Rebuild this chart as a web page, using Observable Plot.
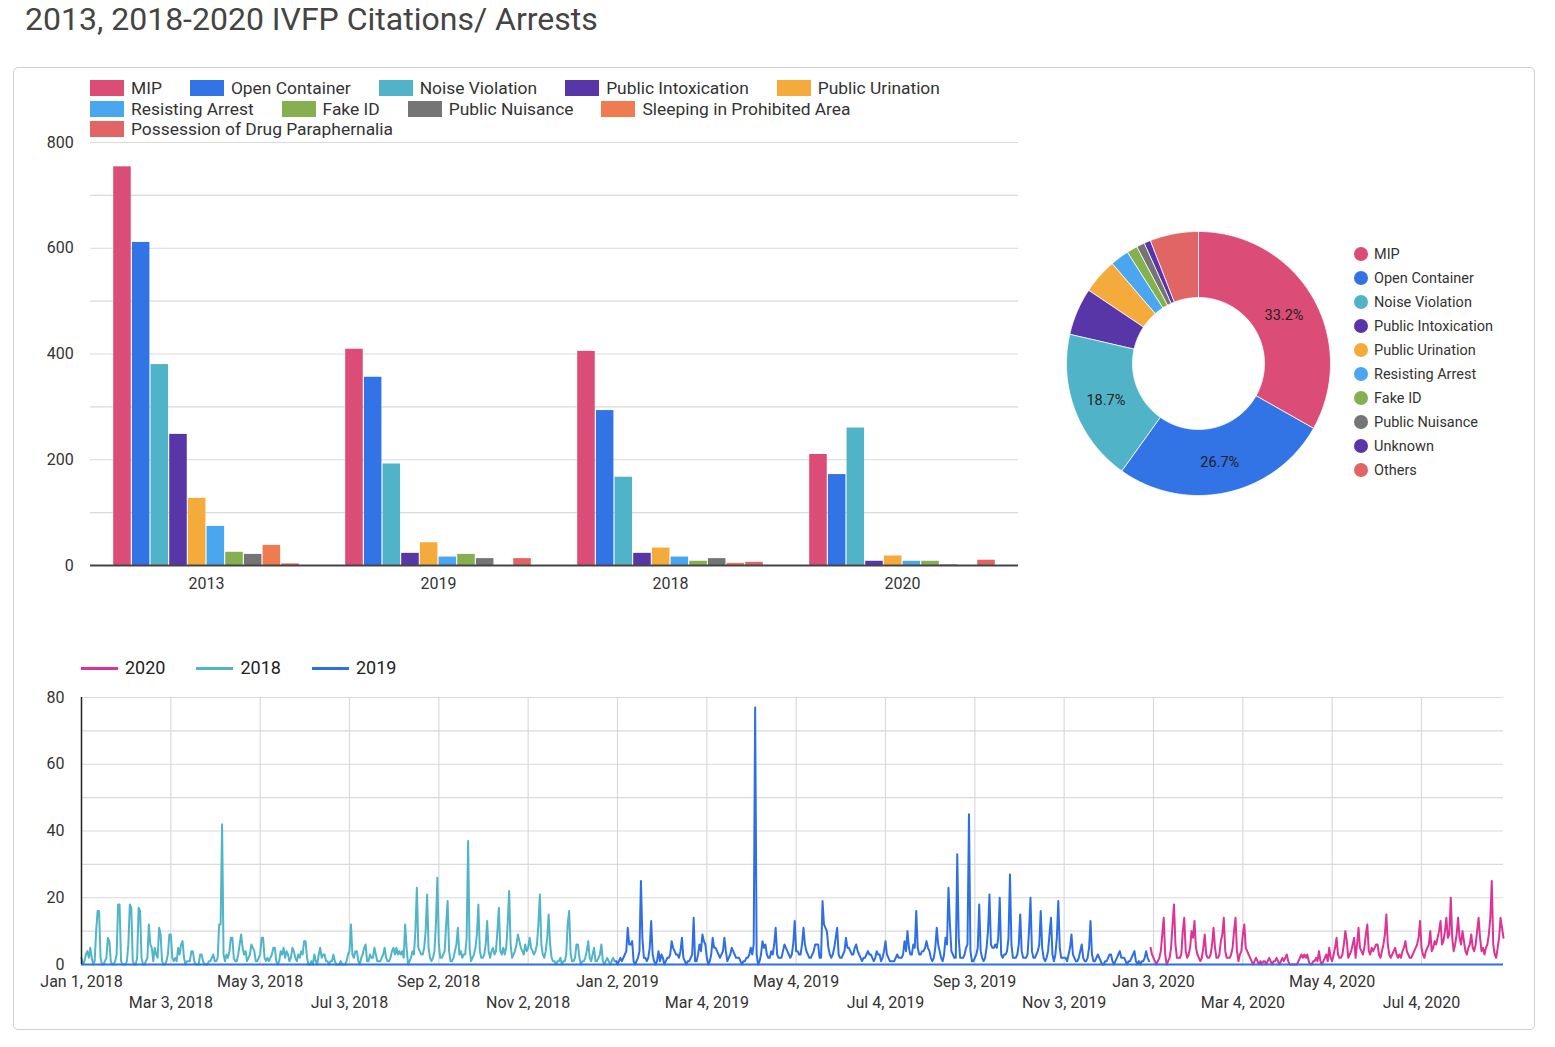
<!DOCTYPE html>
<html>
<head>
<meta charset="utf-8">
<script src="https://cdn.jsdelivr.net/npm/d3@7"></script>
<script src="https://cdn.jsdelivr.net/npm/@observablehq/plot@0.6"></script>
<style>
  body { margin: 0; background: #fff; font-family: Roboto, "Noto Sans", sans-serif; color: #333; }
  #page { position: relative; width: 1555px; height: 1047px; overflow: hidden; background: #fff; }
  #title { position: absolute; left: 25px; top: 3px; font-size: 32px; line-height: 30px; padding-top: 1px; color: #444; white-space: nowrap; }
  #card { position: absolute; left: 13px; top: 67px; width: 1522px; height: 963px; border: 1px solid #d0d0d0; border-radius: 5px; box-sizing: border-box; }
  .abs { position: absolute; }
  #barLegend { left: 90px; top: 78px; width: 940px; display: flex; flex-wrap: wrap; font-size: 17.4px; line-height: 20.5px; color: #333; }
  .bl { display: flex; align-items: center; margin-right: 28px; white-space: nowrap; }
  .bl i { display: inline-block; width: 34px; height: 16px; margin-right: 7px; }
  #pieLegend { left: 1354px; top: 242px; font-size: 14.5px; color: #333; }
  .pl { display: flex; align-items: center; height: 24px; white-space: nowrap; }
  .pl i { display: inline-block; width: 14px; height: 14px; border-radius: 50%; margin-right: 6px; }
  #lineLegend { left: 81px; top: 657px; display: flex; font-size: 18px; line-height: 22px; color: #222; }
  .ll { display: flex; align-items: center; margin-right: 31px; }
  .ll i { display: inline-block; width: 37px; height: 3px; margin-right: 7px; }
  svg.chart { position: absolute; overflow: visible; }
</style>
</head>
<body>
<div id="page">
  <div id="title">2013, 2018-2020 IVFP Citations/ Arrests</div>
  <div id="card"></div>
  <div id="barLegend" class="abs"></div>
  <div id="pieLegend" class="abs"></div>
  <div id="lineLegend" class="abs"></div>
</div>
<script>
// ---------------- DATA ----------------
const categories = ["MIP", "Open Container", "Noise Violation", "Public Intoxication", "Public Urination",
  "Resisting Arrest", "Fake ID", "Public Nuisance", "Sleeping in Prohibited Area", "Possession of Drug Paraphernalia"];
const categoryColors = ["#db4c77", "#3273e6", "#50b3c8", "#5936a8", "#f4ab3c",
  "#4aa7ef", "#86b04f", "#757575", "#ef7b51", "#e16565"];
const barYears = ["2013", "2019", "2018", "2020"];
const counts2013 = [754, 611, 380, 248, 127, 74, 25, 21, 38, 3];
const counts2019 = [409, 356, 192, 23, 43, 16, 21, 13, 0, 13];
const counts2018 = [405, 293, 167, 23, 33, 16, 8, 13, 4, 6];
const counts2020 = [210, 172, 260, 8, 18, 8, 8, 1, 0, 10];
const barYTicks = [0, 200, 400, 600, 800];
const barGrid = [100, 200, 300, 400, 500, 600, 700, 800];

const donutNames = ["MIP", "Open Container", "Noise Violation", "Public Intoxication", "Public Urination",
  "Resisting Arrest", "Fake ID", "Public Nuisance", "Unknown", "Others"];
const donutColors = ["#db4c77", "#3273e6", "#50b3c8", "#5936a8", "#f4ab3c",
  "#4aa7ef", "#86b04f", "#757575", "#5a34a9", "#e16565"];
const donutShares = [33.2, 26.7, 18.7, 5.8, 4.3, 2.3, 1.3, 1.0, 0.8, 5.9];

const lineSeriesNames = ["2020", "2018", "2019"];
const lineColors = { "2020": "#dd3394", "2018": "#50b5c8", "2019": "#2f6fe4" };
const lineTickLabels = ["Jan 1, 2018", "Mar 3, 2018", "May 3, 2018", "Jul 3, 2018", "Sep 2, 2018", "Nov 2, 2018",
  "Jan 2, 2019", "Mar 4, 2019", "May 4, 2019", "Jul 4, 2019", "Sep 3, 2019", "Nov 3, 2019",
  "Jan 3, 2020", "Mar 4, 2020", "May 4, 2020", "Jul 4, 2020"];
const lineYTicks = [0, 20, 40, 60, 80];
const lineGrid = [10, 20, 30, 40, 50, 60, 70, 80];
const lineDomain = ["2018-01-01", "2020-08-29"];
const seriesStart = { "2018": "2018-01-01", "2019": "2019-01-01", "2020": "2020-01-01" };

// daily counts, one row = 10 days
const daily2018 = [
  2,0,1,3,4,2,5,2,0,1, 10,16,16,2,0,0,1,2,8,7, 1,0,0,1,3,18,18,1,0,0, 0,1,6,18,17,1,0,0,2,17,
  16,2,0,0,1,2,12,6,5,1, 5,3,2,11,9,1,0,0,1,3, 9,9,2,1,2,1,5,3,6,7, 2,0,1,1,1,4,4,1,0,0,
  0,3,3,1,0,0,0,1,1,2, 3,1,1,2,12,12,42,3,1,3, 2,4,8,8,2,1,1,3,6,9, 5,3,4,1,2,3,6,5,4,1,
  1,2,3,8,8,2,1,2,1,2, 3,5,5,1,0,1,4,3,5,2, 4,3,1,2,5,4,2,1,3,2, 4,3,7,7,2,0,0,1,0,3,
  1,0,3,5,2,3,3,1,1,0, 1,1,3,1,0,0,0,1,0,0, 0,1,3,4,12,3,2,4,4,1, 0,2,3,5,6,1,1,3,2,2,
  5,3,1,1,1,2,3,5,2,1, 1,2,4,5,3,5,3,4,3,4, 2,12,5,0,1,2,4,3,10,23, 5,4,3,3,5,10,21,5,2,1,
  2,4,12,26,6,2,2,3,4,12, 19,4,1,1,2,4,6,11,3,4, 2,3,3,8,37,5,1,2,3,5, 9,18,4,2,2,3,6,13,4,2,
  4,5,3,4,10,17,4,3,5,3, 5,12,22,6,2,3,4,6,9,7, 5,4,3,6,4,5,8,5,4,3, 4,6,12,21,6,3,2,4,8,15,
  6,2,1,1,0,1,1,2,0,1, 1,3,12,16,3,1,1,2,6,6, 2,0,1,1,2,4,7,2,1,3, 5,1,1,2,3,6,1,0,1,2,
  1,0,1,2,1
];
const daily2019 = [
  1,0,1,2,1,2,3,4,11,6, 6,7,1,0,1,2,4,25,8,2, 2,1,2,5,13,3,1,0,1,4, 1,3,2,0,1,2,2,3,7,5,
  4,3,3,2,4,8,2,1,0,1, 1,2,3,14,1,1,3,6,4,9, 7,6,2,0,1,3,8,5,5,4, 3,2,3,4,8,4,1,2,3,5,
  4,3,2,2,2,1,0,1,1,2, 2,3,5,3,6,77,3,0,1,3, 7,5,6,3,2,2,4,3,6,11, 3,2,2,2,4,6,5,4,3,2,
  3,6,13,4,4,3,3,6,11,6, 4,3,2,2,3,4,6,6,6,2, 2,19,12,11,10,5,3,2,3,5, 8,11,3,2,2,3,4,8,5,5,
  4,3,3,5,6,4,3,2,1,2, 2,3,4,3,3,2,1,2,4,3, 3,1,2,4,7,3,2,1,1,1, 1,2,3,2,2,2,3,7,4,10,
  5,3,3,6,5,16,5,3,3,4, 4,5,7,5,4,2,1,2,5,11, 6,4,2,1,3,8,6,23,12,4, 3,2,2,33,8,2,2,2,3,5,
  6,45,4,1,1,2,3,5,18,4, 2,1,2,5,10,21,6,5,5,6, 5,8,20,3,2,3,3,4,8,27, 6,2,2,2,3,6,15,4,2,2,
  2,3,10,20,4,2,2,3,4,6, 16,5,2,1,2,4,9,14,3,1, 3,8,19,5,2,2,2,2,1,3, 5,9,3,2,1,1,2,4,6,2,
  1,1,2,5,13,3,1,1,2,3, 2,1,0,0,1,1,2,3,3,1, 0,1,2,3,4,2,2,2,1,0, 1,1,2,3,4,1,0,1,0,1,
  1,2,4,2,1
];
const daily2020 = [
  5,3,2,1,0,1,2,4,9,14, 3,0,1,2,5,12,18,6,2,2, 2,3,10,14,4,2,3,5,10,8, 13,5,3,2,1,2,5,9,3,2,
  2,3,6,11,5,2,2,3,7,9, 14,4,2,2,2,3,5,10,14,4, 1,3,4,9,12,5,4,3,2,1, 0,1,2,1,0,1,0,1,1,0,
  1,2,1,0,1,1,2,1,0,1, 2,1,2,3,1,0,0,0,0,0, 0,1,2,3,2,3,2,3,1,0, 0,1,1,2,1,4,1,0,1,2,
  3,1,5,2,1,3,5,8,3,2, 2,3,6,10,7,2,3,4,6,8, 2,6,11,5,4,3,5,9,12,4, 3,5,4,5,6,6,3,2,4,6,
  9,15,6,3,2,3,4,5,3,2, 3,2,4,5,7,4,3,2,2,3, 4,5,6,8,13,5,3,2,4,5, 6,10,4,5,7,6,8,10,13,6,
  7,10,14,8,9,20,8,4,6,9, 14,8,6,10,7,4,3,5,6,9, 5,4,6,10,14,8,4,5,3,5, 6,9,14,25,6,3,2,5,8,14,
  11,8
];

// ---------------- LEGENDS (HTML) ----------------
const barLegend = document.getElementById("barLegend");
categories.forEach((c, i) => {
  const el = document.createElement("div"); el.className = "bl";
  el.innerHTML = `<i style="background:${categoryColors[i]}"></i><span>${c}</span>`;
  barLegend.appendChild(el);
});
const pieLegend = document.getElementById("pieLegend");
donutNames.forEach((c, i) => {
  const el = document.createElement("div"); el.className = "pl";
  el.innerHTML = `<i style="background:${donutColors[i]}"></i><span>${c}</span>`;
  pieLegend.appendChild(el);
});
const lineLegend = document.getElementById("lineLegend");
lineSeriesNames.forEach(s => {
  const el = document.createElement("div"); el.className = "ll";
  el.innerHTML = `<i style="background:${lineColors[s]}"></i><span>${s}</span>`;
  lineLegend.appendChild(el);
});

const page = document.getElementById("page");
function place(svg, left, top) {
  svg.classList.add("chart");
  svg.style.left = left + "px";
  svg.style.top = top + "px";
  page.appendChild(svg);
}

// ---------------- BAR CHART ----------------
const yearCounts = { "2013": counts2013, "2019": counts2019, "2018": counts2018, "2020": counts2020 };
const barRows = [];
barYears.forEach(y => categories.forEach((c, i) => barRows.push({ year: y, category: c, value: yearCounts[y][i] })));

const barW = 1040, barH = 480, barML = 90, barMR = 22;
const fxPadIn = 0.2, fxPadOut = 0.1;
const fxStep = (barW - barML - barMR) / (barYears.length - fxPadIn + 2 * fxPadOut);
const ext = fxStep * fxPadIn / 2;

const barPlot = Plot.plot({
  width: barW, height: barH,
  marginLeft: barML, marginRight: barMR, marginTop: 12, marginBottom: 45,
  style: { fontFamily: "Roboto, sans-serif", fontSize: "16px", color: "#333", background: "transparent", overflow: "visible" },
  fx: { domain: barYears, paddingInner: fxPadIn, paddingOuter: fxPadOut, round: false, axis: null, label: null },
  x: { domain: categories, paddingInner: 0.06, paddingOuter: 0, round: false, axis: null },
  y: { domain: [0, 800], axis: null },
  color: { domain: categories, range: categoryColors },
  marks: [
    Plot.ruleY(barGrid, { stroke: "#dadada", strokeWidth: 1.2, insetLeft: -ext, insetRight: -ext }),
    Plot.barY(barRows, { fx: "year", x: "category", y: "value", fill: "category" }),
    Plot.ruleY([0], { stroke: "#444", strokeWidth: 2, insetLeft: -ext, insetRight: -ext }),
    Plot.axisY({ ticks: barYTicks, tickSize: 0, tickPadding: 40, label: null, fontSize: 16 }),
    Plot.axisFx({ anchor: "bottom", tickSize: 0, tickPadding: 12, label: null, fontSize: 16 })
  ]
});
place(barPlot, 0, 130);

// ---------------- DONUT ----------------
const donutRows = donutNames.map((n, i) => ({ name: n, value: donutShares[i], color: donutColors[i] }));
const total = d3.sum(donutShares);
const rOuter = 1, rInner = 0.5;
const arcs = d3.pie().sort(null).value(d => d.value)(donutRows);
const sliceMarks = arcs.map(a => {
  const n = Math.max(2, Math.ceil((a.endAngle - a.startAngle) / 0.01));
  const pts = [];
  for (let k = 0; k <= n; k++) {
    const t = a.startAngle + (a.endAngle - a.startAngle) * k / n;
    pts.push({ x: rOuter * Math.sin(t), y: rOuter * Math.cos(t) });
  }
  for (let k = n; k >= 0; k--) {
    const t = a.startAngle + (a.endAngle - a.startAngle) * k / n;
    pts.push({ x: rInner * Math.sin(t), y: rInner * Math.cos(t) });
  }
  return Plot.line(pts, { x: "x", y: "y", curve: "linear-closed", fill: a.data.color, stroke: "#fff", strokeWidth: 0.8 });
});
const labelRows = arcs.filter(a => a.data.value / total >= 0.1).map(a => {
  const m = (a.startAngle + a.endAngle) / 2, r = (rOuter + rInner) / 2;
  return { x: r * Math.sin(m), y: r * Math.cos(m), text: d3.format(".1%")(a.data.value / total) };
});
const donutPlot = Plot.plot({
  width: 280, height: 280, margin: 8,
  style: { fontFamily: "Roboto, sans-serif", background: "transparent", overflow: "visible" },
  x: { domain: [-1, 1], axis: null },
  y: { domain: [-1, 1], axis: null },
  marks: [
    ...sliceMarks,
    Plot.text(labelRows, { x: "x", y: "y", text: "text", fontSize: 14.5, fill: "#222", dy: 2 })
  ]
});
place(donutPlot, 1058, 223);

// ---------------- LINE CHART ----------------
const parseIso = d3.utcParse("%Y-%m-%d");
const parseTick = d3.utcParse("%b %d, %Y");
const fmtTick = d3.utcFormat("%b %-d, %Y");
const tickDates = lineTickLabels.map(parseTick);
const evenTicks = tickDates.filter((d, i) => i % 2 === 0);
const oddTicks = tickDates.filter((d, i) => i % 2 === 1);
function toRows(arr, s) {
  const st = parseIso(seriesStart[s]);
  return arr.map((v, i) => ({ date: d3.utcDay.offset(st, i), value: v, series: s }));
}
const rows2018 = toRows(daily2018, "2018");
const rows2019 = toRows(daily2019, "2019");
const rows2020 = toRows(daily2020, "2020");

const linePlot = Plot.plot({
  width: 1530, height: 350,
  marginLeft: 81, marginRight: 27, marginTop: 17, marginBottom: 66,
  style: { fontFamily: "Roboto, sans-serif", fontSize: "16px", color: "#333", background: "transparent", overflow: "visible" },
  x: { type: "utc", domain: lineDomain.map(parseIso), axis: null },
  y: { domain: [0, 80], axis: null },
  marks: [
    Plot.ruleY(lineGrid, { stroke: "#dadada", strokeWidth: 1.2 }),
    Plot.ruleX(tickDates.slice(1), { stroke: "#dadada", strokeWidth: 1.2 }),
    Plot.axisY({ ticks: lineYTicks, tickSize: 0, tickPadding: 17, label: null, fontSize: 16 }),
    Plot.axisX({ ticks: evenTicks, tickFormat: fmtTick, tickSize: 0, tickPadding: 11, label: null, fontSize: 16 }),
    Plot.axisX({ ticks: oddTicks, tickFormat: fmtTick, tickSize: 0, tickPadding: 32, label: null, fontSize: 16 }),
    Plot.line(rows2020, { x: "date", y: "value", stroke: lineColors["2020"], strokeWidth: 2 }),
    Plot.line(rows2018, { x: "date", y: "value", stroke: lineColors["2018"], strokeWidth: 2 }),
    Plot.line(rows2019, { x: "date", y: "value", stroke: lineColors["2019"], strokeWidth: 2 }),
    Plot.ruleY([0], { stroke: lineColors["2019"], strokeWidth: 2 }),
    Plot.ruleX([tickDates[0]], { stroke: "#222", strokeWidth: 1.5 })
  ]
});
place(linePlot, 0, 680);
</script>
</body>
</html>
